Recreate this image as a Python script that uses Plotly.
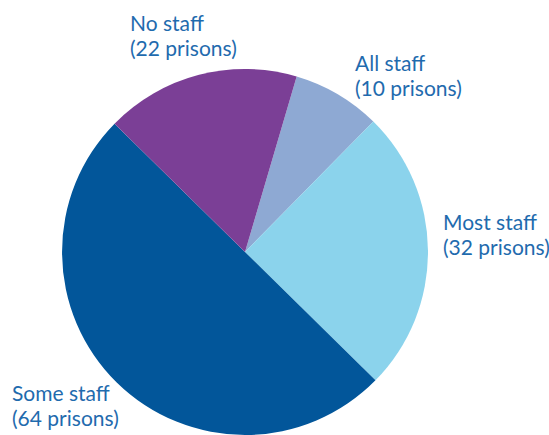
import plotly.graph_objects as go

# Prisons by share of staff involved
categories = ["All staff", "Most staff", "Some staff", "No staff"]
prisons = [10, 32, 64, 22]
colors = ["#8EA9D3", "#8BD3EC", "#02569A", "#7B3F96"]

W, H = 549, 435
cx, cy, r = 245, 252, 183

fig = go.Figure(go.Pie(
    labels=categories,
    values=prisons,
    sort=False,
    direction="clockwise",
    rotation=16.4,
    marker=dict(colors=colors, line=dict(width=0)),
    textinfo="none",
    hoverinfo="label+value",
    domain=dict(x=[(cx - r) / W, (cx + r) / W], y=[(H - cy - r) / H, (H - cy + r) / H]),
    showlegend=False,
))

# label placement: left edge and vertical centre of the first line (pixels)
label_pos = {"All staff": (353, 62), "Most staff": (441, 221),
             "Some staff": (10, 392), "No staff": (128, 22)}
line_gap = 25.5
font = dict(family="Lato", size=21, color="#1F6BAE")

for name, n in zip(categories, prisons):
    px, py = label_pos[name]
    for i, line in enumerate([name, f"({n} prisons)"]):
        fig.add_annotation(
            x=px / W, y=1 - (py + i * line_gap) / H, xref="paper", yref="paper",
            xanchor="left", yanchor="middle", align="left", showarrow=False,
            text=line, font=font,
        )

fig.update_layout(
    width=W, height=H,
    margin=dict(l=0, r=0, t=0, b=0),
    paper_bgcolor="white", plot_bgcolor="white",
)

fig.write_html("out.html")
